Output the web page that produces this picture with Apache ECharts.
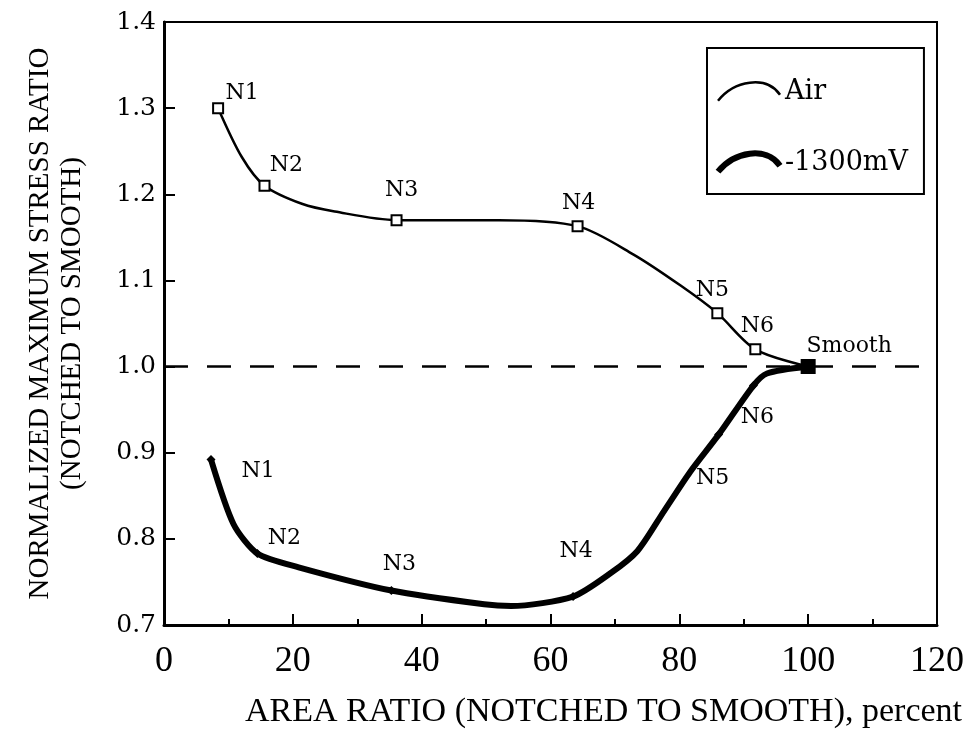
<!DOCTYPE html>
<html lang="en">
<head>
<meta charset="UTF-8">
<title>Normalized maximum stress ratio</title>
<script src="https://cdn.jsdelivr.net/npm/echarts@6/dist/echarts.min.js"></script>
<style>
  html, body { margin: 0; padding: 0; background: #fff; }
</style>
</head>
<body>
<div id="main" style="width: 971px;height: 734px"></div>
<script>
  // Air curve (thin line); named points carry a marker
  const airX = [8.4, 12.1, 15.6, 21.4, 26.5, 36.1, 52, 64.2, 72.9, 80.2, 85.9, 91.8, 100];
  const airY = [1.30, 1.243, 1.21, 1.189, 1.18, 1.17, 1.17, 1.163, 1.13, 1.094, 1.062, 1.02, 1.0];
  const airNames = ['N1', '', 'N2', '', '', 'N3', '', 'N4', '', '', 'N5', 'N6', 'Smooth'];

  // -1300mV curve (thick line)
  const cpX = [7.3, 10.8, 14.5, 20.9, 35.3, 49.7, 53.9, 63.5, 69.3, 73.5, 77.6, 81.7, 86.1, 91.5, 93.6, 100];
  const cpY = [0.892, 0.817, 0.783, 0.767, 0.740, 0.724, 0.722, 0.733, 0.760, 0.786, 0.832, 0.878, 0.921, 0.978, 0.992, 1.0];
  const cpNames = ['N1', '', 'N2', '', 'N3', '', '', 'N4', '', '', '', '', 'N5', 'N6', '', ''];

  const seriesNames = ['Air', '-1300mV'];
  const refLine = 1.0;

  // label placement (pixels, relative to the point)
  const airLabelOffset = {N1: [24, -15], N2: [22, -20], N3: [5, -30], N4: [1, -23], N5: [-5, -23], N6: [2, -23], Smooth: [41, -20]};
  const cpLabelOffset = {N1: [47, 12], N2: [27, -15], N3: [8, -26], N4: [3, -45], N5: [-6, 44], N6: [4, 32]};

  const serif = 'Liberation Serif';
  const chart = echarts.init(document.getElementById('main'));

  function buildData(xs, ys, names, offsets, markerType) {
    return xs.map(function (x, i) {
      const name = names[i];
      const item = { value: [x, ys[i]], name: name };
      if (!name) {
        item.symbol = 'none';
        return item;
      }
      item.symbol = markerType;
      item.label = { show: true, offset: offsets[name] };
      if (name === 'Smooth') {
        item.symbolSize = 13;
        item.itemStyle = { color: '#000' };
      }
      return item;
    });
  }

  const option = {
    backgroundColor: '#fff',
    animation: false,
    grid: {
      left: 164, right: 34, top: 22, bottom: 101,
      show: true, borderColor: '#000', borderWidth: 2, backgroundColor: 'transparent'
    },
    legend: {
      left: 707, top: 48,
      orient: 'vertical',
      borderColor: '#000', borderWidth: 2,
      padding: [30, 16, 18, 8],
      itemGap: 44,
      itemWidth: 62, itemHeight: 22,
      itemTextGap: 20,
      textStyle: { fontFamily: 'DejaVu Serif', fontSize: 27, color: '#000' },
      data: [
        { name: seriesNames[0], icon: 'path://M0,22 C16,2 48,-4 62,16', itemStyle: { color: 'none', borderColor: '#000', borderWidth: 2.5 } },
        { name: seriesNames[1], icon: 'path://M0,22 C16,2 48,-4 62,16', itemStyle: { color: 'none', borderColor: '#000', borderWidth: 6 } }
      ]
    },
    xAxis: {
      type: 'value', min: 0, max: 120, interval: 20,
      name: 'AREA RATIO (NOTCHED TO SMOOTH), percent',
      nameLocation: 'middle', nameGap: 70,
      nameTextStyle: { fontFamily: serif, fontSize: 34, color: '#000', padding: [0, 0, 0, 106] },
      axisLine: { lineStyle: { color: '#000', width: 3 } },
      axisTick: { inside: true, length: 11, lineStyle: { color: '#000', width: 2 } },
      minorTick: { show: true, splitNumber: 2, length: 6, lineStyle: { color: '#000', width: 2 } },
      axisLabel: { fontFamily: serif, fontSize: 36, color: '#000', margin: 19 },
      splitLine: { show: false }
    },
    yAxis: {
      type: 'value', min: 0.7, max: 1.4, interval: 0.1,
      name: 'NORMALIZED MAXIMUM STRESS RATIO\n(NOTCHED TO SMOOTH)',
      nameLocation: 'middle', nameGap: 76, nameRotate: 90,
      nameTextStyle: { fontFamily: serif, fontSize: 29, lineHeight: 32, color: '#000', align: 'center' },
      axisLine: { lineStyle: { color: '#000', width: 3 } },
      axisTick: { inside: true, length: 11, lineStyle: { color: '#000', width: 2 } },
      axisLabel: {
        fontFamily: 'DejaVu Serif', fontSize: 25, color: '#000', margin: 8,
        formatter: function (v) { return v.toFixed(1); }
      },
      splitLine: { show: false }
    },
    series: [
      {
        name: seriesNames[0],
        type: 'line',
        smooth: 0.3,
        symbolSize: 10,
        showAllSymbol: true,
        lineStyle: { color: '#000', width: 2.5 },
        itemStyle: { color: '#fff', borderColor: '#000', borderWidth: 2 },
        label: {
          position: 'inside',
          fontFamily: 'DejaVu Serif', fontSize: 22, color: '#000',
          formatter: function (p) { return p.name; }
        },
        data: buildData(airX, airY, airNames, airLabelOffset, 'rect'),
        markLine: {
          silent: true,
          symbol: 'none',
          label: { show: false },
          lineStyle: { color: '#000', width: 2.5, type: [24, 19] },
          data: [{ yAxis: refLine }]
        },
        z: 3
      },
      {
        name: seriesNames[1],
        type: 'line',
        smooth: 0.25,
        symbolSize: 9,
        showAllSymbol: true,
        lineStyle: { color: '#000', width: 6 },
        itemStyle: { color: '#000' },
        label: {
          position: 'inside',
          fontFamily: 'DejaVu Serif', fontSize: 22, color: '#000',
          formatter: function (p) { return p.name; }
        },
        data: buildData(cpX, cpY, cpNames, cpLabelOffset, 'diamond'),
        z: 2
      }
    ]
  };

  chart.setOption(option);
</script>
</body>
</html>
